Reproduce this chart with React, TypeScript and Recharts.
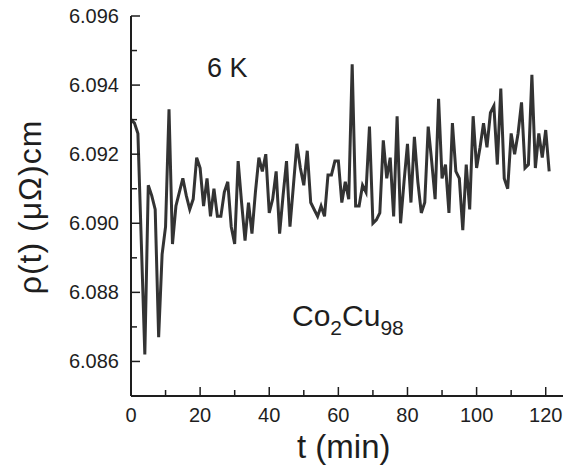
import React from "react"
import { LineChart, Line, XAxis, YAxis } from "recharts"

const times = [
  0, 1, 2, 3, 4, 5, 6, 7, 8, 9, 10, 11, 12, 13, 14, 15, 16, 17, 18, 19,
  20, 21, 22, 23, 24, 25, 26, 27, 28, 29, 30, 31, 32, 33, 34, 35, 36, 37, 38, 39,
  40, 41, 42, 43, 44, 45, 46, 47, 48, 49, 50, 51, 52, 53, 54, 55, 56, 57, 58, 59,
  60, 61, 62, 63, 64, 65, 66, 67, 68, 69, 70, 71, 72, 73, 74, 75, 76, 77, 78, 79,
  80, 81, 82, 83, 84, 85, 86, 87, 88, 89, 90, 91, 92, 93, 94, 95, 96, 97, 98, 99,
  100, 101, 102, 103, 104, 105, 106, 107, 108, 109, 110, 111, 112, 113, 114, 115, 116, 117, 118, 119,
  120, 121,
]

const rho = [
  6.093, 6.0929, 6.0926, 6.0894, 6.0862, 6.0911, 6.0908, 6.0904, 6.0867, 6.0891,
  6.0899, 6.0933, 6.0894, 6.0905, 6.0909, 6.0913, 6.0908, 6.0904, 6.0907, 6.0919,
  6.0916, 6.0905, 6.0913, 6.0902, 6.091, 6.0902, 6.0902, 6.0909, 6.0912, 6.0899,
  6.0894, 6.0918, 6.0906, 6.0895, 6.0906, 6.0897, 6.0909, 6.0919, 6.0915, 6.092,
  6.0903, 6.0907, 6.0915, 6.0897, 6.0908, 6.0918, 6.0899, 6.0911, 6.0923, 6.0916,
  6.0911, 6.0921, 6.0906, 6.0904, 6.0902, 6.0905, 6.0902, 6.0914, 6.0914, 6.0918,
  6.0918, 6.0906, 6.0912, 6.0907, 6.0946, 6.0905, 6.0905, 6.0911, 6.0909, 6.0928,
  6.09, 6.0901, 6.0903, 6.0924, 6.0913, 6.0919, 6.0902, 6.0931, 6.09, 6.0912,
  6.0923, 6.0906, 6.0925, 6.0912, 6.0903, 6.0906, 6.0928, 6.0918, 6.0907, 6.0936,
  6.0913, 6.0917, 6.0903, 6.0929, 6.0915, 6.0913, 6.0898, 6.0917, 6.0904, 6.0931,
  6.0916, 6.0922, 6.0929, 6.0922, 6.0932, 6.0934, 6.0917, 6.0939, 6.0913, 6.091,
  6.0926, 6.092, 6.0926, 6.0935, 6.0916, 6.0917, 6.0943, 6.0916, 6.0926, 6.0919,
  6.0927, 6.0915,
]

const xTicks = [0, 10, 20, 30, 40, 50, 60, 70, 80, 90, 100, 110, 120]
const yTicks = [6.086, 6.087, 6.088, 6.089, 6.09, 6.091, 6.092, 6.093, 6.094, 6.095, 6.096]

const data = times.map((t, i) => ({ t, rho: rho[i] }))

const FONT = '"Liberation Sans", Arial, sans-serif'
const INK = "#1e1e1e"

const YTick = (props: any) => {
  const { x, y, payload } = props
  const axisX = x + 12
  const v = payload.value
  const major = Math.round(v * 1000) % 2 === 0
  return (
    <g>
      <line x1={axisX} x2={axisX + (major ? 9 : 6)} y1={y} y2={y} stroke={INK} strokeWidth={1.5} />
      {major && (
        <text x={x} y={y} textAnchor="end" dominantBaseline="central" fontSize={20} fill={INK} fontFamily={FONT}>
          {v.toFixed(3)}
        </text>
      )}
    </g>
  )
}

const XTick = (props: any) => {
  const { x, y, payload } = props
  const axisY = y - 10
  const v = payload.value
  const major = v % 20 === 0
  return (
    <g>
      <line x1={x} x2={x} y1={axisY} y2={axisY - (major ? 9 : 6)} stroke={INK} strokeWidth={1.5} />
      {major && (
        <text x={x} y={axisY + 12} textAnchor="middle" dominantBaseline="hanging" fontSize={20} fill={INK} fontFamily={FONT}>
          {v}
        </text>
      )}
    </g>
  )
}

export default function App() {
  return (
    <div style={{ position: "absolute", left: 0, top: 0, width: 563, height: 472, overflow: "hidden", background: "#fff", fontFamily: FONT, color: INK }}>
      <LineChart width={563} height={472} data={data} margin={{ top: 16, right: 0, left: 0, bottom: 0 }}>
        <XAxis
          dataKey="t"
          type="number"
          domain={[0, 125]}
          ticks={xTicks}
          interval={0}
          height={76}
          tickSize={0}
          tickMargin={10}
          tickLine={false}
          tick={<XTick />}
          axisLine={{ stroke: INK, strokeWidth: 2 }}
        />
        <XAxis
          xAxisId="top"
          orientation="top"
          dataKey="t"
          type="number"
          domain={[0, 125]}
          height={0}
          tick={false}
          tickLine={false}
          axisLine={{ stroke: INK, strokeWidth: 2 }}
        />
        <YAxis
          type="number"
          domain={[6.085, 6.096]}
          allowDataOverflow
          ticks={yTicks}
          interval={0}
          width={131}
          tickSize={0}
          tickMargin={12}
          tickLine={false}
          tick={<YTick />}
          axisLine={{ stroke: INK, strokeWidth: 2 }}
        />
        <Line
          dataKey="rho"
          type="linear"
          stroke="#333333"
          strokeWidth={3}
          dot={false}
          isAnimationActive={false}
        />
      </LineChart>
      <div style={{ position: "absolute", left: 207, top: 53, fontSize: 27, lineHeight: "30px" }}>6 K</div>
      <div style={{ position: "absolute", left: 292, top: 299, fontSize: 30, lineHeight: "34px", whiteSpace: "nowrap" }}>
        Co<span style={{ fontSize: 21, position: "relative", top: 9 }}>2</span>Cu<span style={{ fontSize: 21, position: "relative", top: 9 }}>98</span>
      </div>
      <div style={{ position: "absolute", left: 297, top: 430, fontSize: 33, lineHeight: "34px", whiteSpace: "nowrap" }}>t (min)</div>
      <div
        style={{
          position: "absolute",
          left: 30,
          top: 207,
          fontSize: 32,
          lineHeight: "36px",
          letterSpacing: 1,
          whiteSpace: "nowrap",
          transform: "translate(-50%, -50%) rotate(-90deg)",
        }}
      >
        ρ(t) (μΩ)cm
      </div>
    </div>
  )
}
